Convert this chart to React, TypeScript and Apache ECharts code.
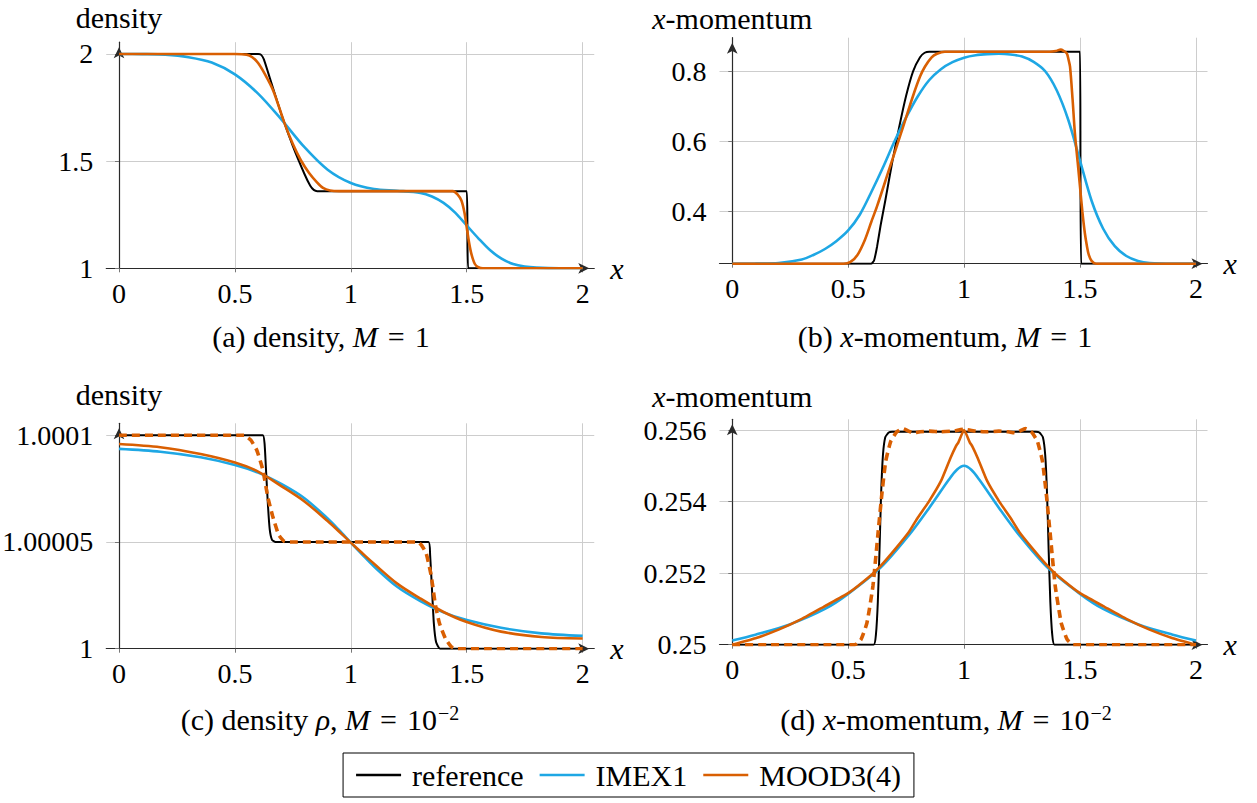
import { useEffect, useRef } from 'react';
import * as echarts from 'echarts';

// ---------- tick labels ----------
const X_TICKS = [0, 0.5, 1, 1.5, 2];
const Y_TICKS_A = [1, 1.5, 2];
const Y_TICKS_B = [0.4, 0.6, 0.8];
const Y_TICKS_C = [1, 1.00005, 1.0001];
const Y_TICKS_D = [0.25, 0.252, 0.254, 0.256];

const LEGEND_NAMES = ['reference', 'IMEX1', 'MOOD3(4)'];
const DASHED_NAME = 'MOOD3(4) dashed';

type P = [number, number][];

// ---------- (a) density, M = 1 ----------
const refA: P = [[0, 2], [0.6, 2], [0.612, 1.997], [0.625, 1.975], [0.65, 1.89], [0.7, 1.72], [0.75, 1.57], [0.8, 1.44], [0.825, 1.385], [0.84, 1.366], [0.855, 1.36], [1.5, 1.36], [1.503, 1.18], [1.506, 1], [2, 1]];
const imexA: P = [[0, 2], [0.1, 1.9995], [0.2, 1.997], [0.3, 1.985], [0.4, 1.96], [0.5, 1.905], [0.6, 1.815], [0.7, 1.695], [0.8, 1.565], [0.9, 1.46], [1, 1.398], [1.1, 1.37], [1.2, 1.362], [1.3, 1.352], [1.35, 1.335], [1.4, 1.305], [1.45, 1.26], [1.5, 1.2], [1.55, 1.14], [1.6, 1.085], [1.65, 1.045], [1.7, 1.02], [1.75, 1.008], [1.8, 1.003], [1.9, 1], [2, 1]];
const moodA: P = [[0, 2], [0.5, 2], [0.55, 1.997], [0.575, 1.985], [0.6, 1.958], [0.63, 1.905], [0.665, 1.83], [0.715, 1.674], [0.75, 1.58], [0.785, 1.503], [0.82, 1.445], [0.855, 1.4], [0.88, 1.375], [0.91, 1.363], [0.95, 1.36], [1.44, 1.36], [1.46, 1.345], [1.477, 1.316], [1.49, 1.26], [1.5, 1.19], [1.51, 1.12], [1.52, 1.067], [1.535, 1.02], [1.55, 1.005], [1.57, 1], [2, 1]];

// ---------- (b) x-momentum, M = 1 ----------
const refB: P = [[0, 0.25], [0.6, 0.25], [0.612, 0.26], [0.625, 0.3], [0.64, 0.36], [0.66, 0.43], [0.69, 0.54], [0.72, 0.64], [0.75, 0.73], [0.78, 0.8], [0.81, 0.84], [0.83, 0.853], [0.85, 0.856], [1.5, 0.856], [1.502, 0.55], [1.505, 0.25], [2, 0.25]];
const imexB: P = [[0, 0.25], [0.1, 0.2502], [0.2, 0.252], [0.3, 0.262], [0.35, 0.275], [0.4, 0.292], [0.45, 0.315], [0.5, 0.345], [0.55, 0.39], [0.6, 0.455], [0.65, 0.525], [0.7, 0.6], [0.75, 0.668], [0.8, 0.728], [0.85, 0.775], [0.9, 0.806], [0.95, 0.826], [1, 0.839], [1.05, 0.846], [1.1, 0.849], [1.15, 0.85], [1.2, 0.848], [1.25, 0.842], [1.3, 0.827], [1.35, 0.8], [1.4, 0.745], [1.45, 0.66], [1.5, 0.545], [1.55, 0.43], [1.6, 0.35], [1.65, 0.3], [1.7, 0.272], [1.75, 0.258], [1.8, 0.252], [1.9, 0.25], [2, 0.25]];
const moodB: P = [[0, 0.25], [0.48, 0.25], [0.51, 0.255], [0.54, 0.275], [0.572, 0.318], [0.6, 0.37], [0.624, 0.413], [0.676, 0.518], [0.728, 0.623], [0.779, 0.728], [0.81, 0.785], [0.831, 0.813], [0.86, 0.84], [0.883, 0.85], [0.917, 0.856], [1.37, 0.856], [1.395, 0.858], [1.417, 0.862], [1.43, 0.858], [1.443, 0.851], [1.45, 0.835], [1.457, 0.813], [1.468, 0.72], [1.478, 0.623], [1.49, 0.54], [1.5, 0.47], [1.51, 0.4], [1.521, 0.337], [1.53, 0.3], [1.538, 0.275], [1.55, 0.258], [1.569, 0.25], [2, 0.25]];

// ---------- (c) density rho, M = 1e-2 ----------
const refC: P = [[0, 1.0001], [0.62, 1.0001], [0.628, 1.000096], [0.635, 1.000082], [0.642, 1.000068], [0.65, 1.000056], [0.66, 1.000051], [0.675, 1.00005], [1.335, 1.00005], [1.342, 1.000044], [1.35, 1.000028], [1.358, 1.000012], [1.368, 1.000003], [1.385, 1], [2, 1]];
const imexC: P = [[0, 1.0000936], [0.178, 1.0000923], [0.352, 1.0000897], [0.5, 1.0000861], [0.6, 1.0000825], [0.7, 1.0000772], [0.8, 1.0000705], [0.9, 1.000061], [0.95, 1.0000555], [1, 1.0000497], [1.05, 1.000044], [1.1, 1.0000385], [1.2, 1.000029], [1.3, 1.0000223], [1.4, 1.000017], [1.5, 1.0000134], [1.648, 1.0000098], [1.822, 1.0000072], [2, 1.000006]];
const moodC: P = [[0, 1.0000959], [0.178, 1.0000944], [0.352, 1.0000912], [0.5, 1.0000872], [0.6, 1.000083], [0.7, 1.0000762], [0.8, 1.000069], [0.9, 1.0000598], [0.95, 1.0000548], [1, 1.0000497], [1.05, 1.0000447], [1.1, 1.0000398], [1.2, 1.0000305], [1.3, 1.0000235], [1.4, 1.0000172], [1.5, 1.0000125], [1.648, 1.000008], [1.822, 1.0000055], [2, 1.0000048]];
const moodDashC: P = [[0, 1.0001], [0.54, 1.0001], [0.568, 1.0000978], [0.594, 1.0000931], [0.62, 1.000084], [0.642, 1.000071], [0.663, 1.000062], [0.689, 1.0000533], [0.715, 1.0000502], [0.75, 1.00005], [1.287, 1.00005], [1.304, 1.0000486], [1.325, 1.0000447], [1.347, 1.000034], [1.364, 1.000021], [1.382, 1.000012], [1.408, 1.0000048], [1.434, 1.0000009], [1.46, 1], [2, 1]];

// ---------- (d) x-momentum, M = 1e-2 ----------
const refD: P = [[0, 0.25], [0.61, 0.25], [0.62, 0.2503], [0.628, 0.2512], [0.635, 0.2526], [0.642, 0.2542], [0.65, 0.2553], [0.66, 0.2558], [0.675, 0.25593], [0.69, 0.25595], [1.31, 0.25595], [1.325, 0.25593], [1.34, 0.2558], [1.35, 0.2553], [1.358, 0.2542], [1.365, 0.2526], [1.372, 0.2512], [1.38, 0.2503], [1.39, 0.25], [2, 0.25]];
const imexD: P = [[0, 0.25012], [0.1, 0.25028], [0.245, 0.25056], [0.4, 0.251], [0.5, 0.25142], [0.641, 0.25216], [0.762, 0.25306], [0.848, 0.25381], [0.934, 0.25461], [0.969, 0.25489], [1, 0.255], [1.031, 0.25489], [1.066, 0.25461], [1.152, 0.25381], [1.238, 0.25306], [1.359, 0.25216], [1.5, 0.25142], [1.6, 0.251], [1.755, 0.25056], [1.9, 0.25028], [2, 0.25012]];
const moodD: P = [[0, 0.25], [0.1, 0.25018], [0.2, 0.25042], [0.3, 0.25072], [0.4, 0.25108], [0.5, 0.25144], [0.6, 0.25195], [0.64, 0.2522], [0.7, 0.25265], [0.762, 0.25315], [0.8, 0.25355], [0.848, 0.254], [0.9, 0.25457], [0.94, 0.2552], [0.965, 0.25555], [0.975, 0.25565], [1, 0.256], [1.025, 0.25565], [1.035, 0.25555], [1.06, 0.2552], [1.1, 0.25457], [1.152, 0.254], [1.2, 0.25355], [1.238, 0.25315], [1.3, 0.25265], [1.36, 0.2522], [1.4, 0.25195], [1.5, 0.25144], [1.6, 0.25108], [1.7, 0.25072], [1.8, 0.25042], [1.9, 0.25018], [2, 0.25]];
const moodDashD: P = [[0, 0.25], [0.529, 0.25], [0.555, 0.25014], [0.581, 0.25061], [0.607, 0.25165], [0.628, 0.25306], [0.645, 0.25419], [0.662, 0.25513], [0.684, 0.25569], [0.71, 0.25595], [0.736, 0.25604], [0.76, 0.25597], [0.779, 0.25592], [0.81, 0.25595], [0.85, 0.25597], [0.9, 0.25595], [0.95, 0.25597], [1, 0.25602], [1.05, 0.25597], [1.1, 0.25595], [1.15, 0.25597], [1.19, 0.25595], [1.221, 0.25592], [1.24, 0.25597], [1.264, 0.25604], [1.29, 0.25595], [1.316, 0.25569], [1.338, 0.25513], [1.355, 0.25419], [1.372, 0.25306], [1.393, 0.25165], [1.419, 0.25061], [1.445, 0.25014], [1.471, 0.25], [2, 0.25]];

// ---------- styling ----------
const FONT = 'Liberation Serif, serif';
const FS = 28;      // numbers
const FS_TXT = 30;  // words
const BLACK = '#000000';
const BLUE = '#1ea7e4';
const ORANGE = '#d95f02';
const GRID_COLOR = '#cdcdcd';
const AXIS_COLOR = '#2a2a2a';
const EQ = '\u2004=\u2004';

const PANELS = [
  { left: 106.25, top: 42.2, width: 488, height: 226.1, xMin: -0.055, xMax: 2.05, yMin: 1, yMax: 2.055, yTicks: Y_TICKS_A, yName: 'density', nameGap: 10 },
  { left: 719.5, top: 37.7, width: 488, height: 226, xMin: -0.055, xMax: 2.05, yMin: 0.25, yMax: 0.896, yTicks: Y_TICKS_B, yName: '{i|x}-momentum', nameGap: 4 },
  { left: 106.25, top: 423.3, width: 488, height: 225.4, xMin: -0.055, xMax: 2.05, yMin: 1, yMax: 1.0001056, yTicks: Y_TICKS_C, yName: 'density', nameGap: 14 },
  { left: 719.5, top: 419.3, width: 488, height: 225.4, xMin: -0.055, xMax: 2.05, yMin: 0.25, yMax: 0.2563, yTicks: Y_TICKS_D, yName: '{i|x}-momentum', nameGap: 8 },
];

const CAPTIONS = [
  { x: 321, y: 336, text: '(a) density, {i|M}' + EQ + '1' },
  { x: 945, y: 336, text: '(b) {i|x}-momentum, {i|M}' + EQ + '1' },
  { x: 320, y: 719, text: '(c) density {i|ρ}, {i|M}' + EQ + '10{s|−2}' },
  { x: 946, y: 719, text: '(d) {i|x}-momentum, {i|M}' + EQ + '10{s|−2}' },
];

const RICH = {
  i: { fontStyle: 'italic', fontFamily: FONT, fontSize: FS_TXT, color: '#000' },
  s: { fontFamily: FONT, fontSize: 20, color: '#000', verticalAlign: 'top', padding: [0, 0, 12, 1] },
};

const PANEL_SERIES: { data: P; kind: 'ref' | 'imex' | 'mood' | 'dash' }[][] = [
  [{ data: refA, kind: 'ref' }, { data: imexA, kind: 'imex' }, { data: moodA, kind: 'mood' }],
  [{ data: refB, kind: 'ref' }, { data: imexB, kind: 'imex' }, { data: moodB, kind: 'mood' }],
  [{ data: refC, kind: 'ref' }, { data: imexC, kind: 'imex' }, { data: moodC, kind: 'mood' }, { data: moodDashC, kind: 'dash' }],
  [{ data: refD, kind: 'ref' }, { data: imexD, kind: 'imex' }, { data: moodD, kind: 'mood' }, { data: moodDashD, kind: 'dash' }],
];

function buildOption() {
  const grid = PANELS.map((p) => ({
    left: p.left, top: p.top, width: p.width, height: p.height,
    containLabel: false, outerBoundsMode: 'none', show: false,
  }));
  const xAxis = PANELS.map((p, i) => ({
    type: 'value', gridIndex: i, min: p.xMin, max: p.xMax,
    name: 'x', nameLocation: 'end', nameGap: 16,
    nameTextStyle: { fontFamily: FONT, fontSize: FS_TXT, fontStyle: 'italic', color: '#000', verticalAlign: 'middle', align: 'left' },
    axisLine: { show: true, onZero: true, symbol: ['none', 'arrow'], symbolSize: [8, 11], symbolOffset: [0, -5], lineStyle: { color: AXIS_COLOR, width: 1.2 } },
    axisTick: { show: true, length: 4, customValues: X_TICKS, lineStyle: { color: '#777' } },
    axisLabel: { customValues: X_TICKS, margin: 11, fontFamily: FONT, fontSize: FS, color: '#000', formatter: (v: number) => String(v) },
    splitLine: { show: true, lineStyle: { color: GRID_COLOR, width: 1 } },
  }));
  const yAxis = PANELS.map((p, i) => ({
    type: 'value', gridIndex: i, min: p.yMin, max: p.yMax,
    name: p.yName, nameLocation: 'end', nameGap: p.nameGap,
    nameTextStyle: { fontFamily: FONT, fontSize: FS_TXT, color: '#000', align: 'center', verticalAlign: 'bottom', rich: { i: { fontStyle: 'italic', fontFamily: FONT, fontSize: FS_TXT, color: '#000' } } },
    axisLine: { show: true, onZero: true, symbol: ['none', 'arrow'], symbolSize: [8, 11], symbolOffset: [0, -5], lineStyle: { color: AXIS_COLOR, width: 1.2 } },
    axisTick: { show: true, length: 4, customValues: p.yTicks, lineStyle: { color: '#777' } },
    axisLabel: { customValues: p.yTicks, margin: 13, fontFamily: FONT, fontSize: FS, color: '#000', formatter: (v: number) => String(v) },
    splitLine: { show: true, lineStyle: { color: GRID_COLOR, width: 1 } },
  }));

  const series: any[] = [];
  PANEL_SERIES.forEach((list, i) => {
    list.forEach((s) => {
      const name = s.kind === 'ref' ? LEGEND_NAMES[0] : s.kind === 'imex' ? LEGEND_NAMES[1] : s.kind === 'mood' ? LEGEND_NAMES[2] : DASHED_NAME;
      const color = s.kind === 'ref' ? BLACK : s.kind === 'imex' ? BLUE : ORANGE;
      const width = s.kind === 'ref' ? 2 : s.kind === 'dash' ? 3.6 : 2.6;
      series.push({
        type: 'line', name, xAxisIndex: i, yAxisIndex: i, data: s.data,
        showSymbol: false, symbol: 'none', smooth: s.kind === 'ref' || s.kind === 'dash' ? 0.15 : (i === 3 && s.kind === 'mood' ? 0.15 : 0.3),
        color, itemStyle: { color },
        lineStyle: { color, width, type: s.kind === 'dash' ? [8, 5] : 'solid', cap: 'butt' },
        z: s.kind === 'ref' ? 2 : s.kind === 'imex' ? 3 : s.kind === 'mood' ? 4 : 5,
        silent: true,
      });
    });
  });

  const graphic = CAPTIONS.map((c) => ({
    type: 'text', x: c.x, y: c.y,
    style: { text: c.text, fontFamily: FONT, fontSize: FS_TXT, fill: '#000', align: 'center', verticalAlign: 'middle', rich: RICH },
  }));

  return {
    animation: false,
    backgroundColor: '#ffffff',
    textStyle: { fontFamily: FONT },
    grid, xAxis, yAxis, series, graphic,
    legend: {
      data: LEGEND_NAMES, left: 'center', top: 753, orient: 'horizontal',
      icon: 'rect', itemWidth: 45, itemHeight: 2.4, itemGap: 16,
      borderColor: '#000', borderWidth: 1, borderRadius: 0, padding: [7, 13, 7, 13],
      textStyle: { fontFamily: FONT, fontSize: FS_TXT, color: '#000', padding: [0, 0, 0, 6] },
      selectedMode: false,
    },
  };
}

export default function App() {
  const ref = useRef<HTMLDivElement>(null);
  useEffect(() => {
    if (!ref.current) return;
    const chart = echarts.init(ref.current, null, { renderer: 'svg' });
    chart.setOption(buildOption() as any);
    return () => chart.dispose();
  }, []);
  return <div ref={ref} style={{ position: 'absolute', left: 0, top: 0, width: 1257, height: 803, background: '#fff' }} />;
}
